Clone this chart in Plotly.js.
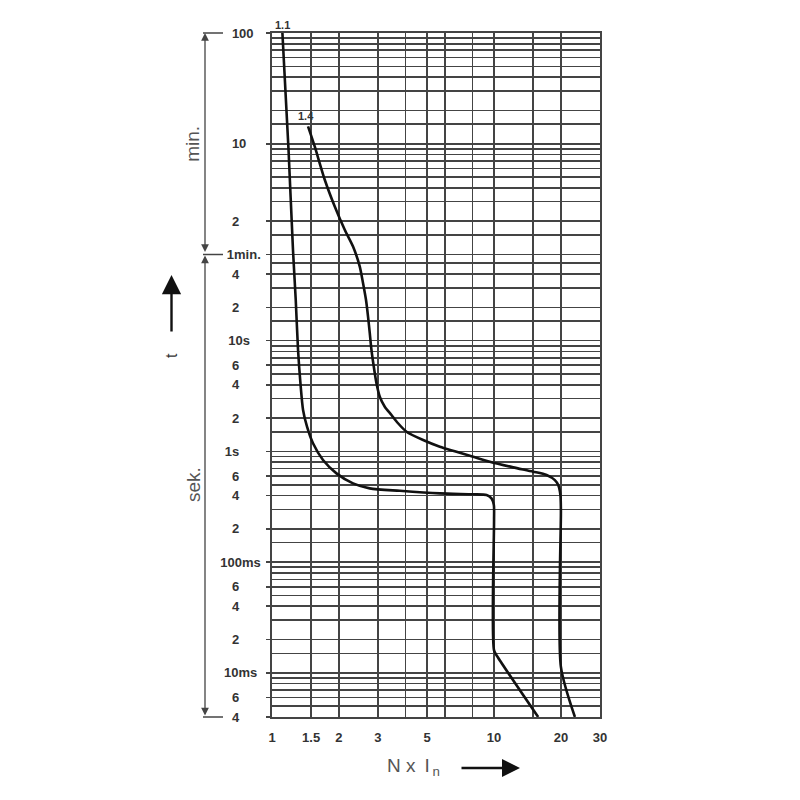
<!DOCTYPE html>
<html>
<head>
<meta charset="utf-8">
<script src="https://cdn.plot.ly/plotly-3.0.1.min.js"></script>
<style>html,body{margin:0;padding:0;background:#fff;}#chart{width:800px;height:800px;}</style>
</head>
<body>
<div id="chart"></div>
<script>
// ---- Data ----
// Curve "1.1": multiple of rated current (N x In) vs tripping time (seconds)
const curve11_N = [1.114, 1.187, 1.243, 1.279, 1.310, 1.343, 1.380, 1.438, 1.530, 1.697, 1.951, 2.317, 2.756, 3.763, 5.70, 8.05, 9.25, 9.74, 9.98, 10, 10, 10.40, 15.80];
const curve11_t = [6000, 530, 66.1, 23.4, 8.24, 4.13, 2.37, 1.672, 1.184, 0.836, 0.634, 0.515, 0.464, 0.441, 0.418, 0.410, 0.404, 0.377, 0.328, 0.240, 0.0160, 0.01386, 0.004];
// Curve "1.4"
const curve14_N = [1.453, 1.557, 1.728, 1.917, 2.126, 2.317, 2.485, 2.571, 2.650, 2.707, 2.756, 2.805, 2.873, 2.954, 3.058, 3.220, 3.452, 3.686, 4.034, 4.792, 5.70, 6.776, 8.05, 9.57, 12.19, 15.01, 17.24, 18.79, 19.45, 19.90, 20, 20, 23.13];
const curve14_t = [860, 567, 284, 162.7, 100.2, 70.8, 46.7, 33.0, 23.4, 16.5, 11.7, 8.24, 5.83, 4.13, 3.12, 2.535, 2.133, 1.806, 1.507, 1.268, 1.103, 0.994, 0.896, 0.807, 0.718, 0.656, 0.612, 0.551, 0.497, 0.404, 0.295, 0.01133, 0.004];
const curveNames = ["1.1", "1.4"];

// X axis ticks
const xTickVals = [1, 1.5, 2, 3, 5, 10, 20, 30];
const xTickText = ["1", "1.5", "2", "3", "5", "10", "20", "30"];
const xGridVals = [4, 6, 8, 15];

// Y axis ticks (seconds)
const yTickVals = [6000, 600, 120, 60, 40, 20, 10, 6, 4, 2, 1, 0.6, 0.4, 0.2, 0.1, 0.06, 0.04, 0.02, 0.01, 0.006, 0.004];
const yTickText = ["100", "10", "2", "1min.", "4", "2", "10s", "6", "4", "2", "1s", "6", "4", "2", "100ms", "6", "4", "2", "10ms", "6", "4"];
const yTickPad  = [2, 4, 6, 0, 6, 6, 3, 6, 6, 6, 6, 6, 6, 6, 0, 6, 6, 6, 1, 6, 6];
const yGridVals = [5400, 4800, 4200, 3600, 3000, 2400, 1800, 1200, 900,
  540, 480, 420, 360, 300, 240, 180, 90,
  50, 30, 15,
  9, 8, 7, 5, 3, 1.5,
  0.9, 0.8, 0.7, 0.5, 0.3, 0.15,
  0.09, 0.08, 0.07, 0.05, 0.03, 0.015,
  0.009, 0.008, 0.007, 0.005];

const xRange = [1, 30];
const yRange = [0.004, 6000];

// ---- Build ----
const NB = "\u00A0";
const yTickLabels = yTickText.map((t, i) => t + NB.repeat(yTickPad[i]));

const gridColor = "#444";
const gridW = 1.6;
const lineStyle = {color: "#111", width: 2.6, shape: "spline", smoothing: 0.7};

const traces = [
  {x: curve11_N, y: curve11_t, mode: "lines", line: lineStyle, name: curveNames[0], hoverinfo: "x+y"},
  {x: curve14_N, y: curve14_t, mode: "lines", line: lineStyle, name: curveNames[1], hoverinfo: "x+y"}
];

const yLo = Math.log10(yRange[0]), yHi = Math.log10(yRange[1]);
function yf(v) { return (Math.log10(v) - yLo) / (yHi - yLo); }
const M = {l: 272, r: 200, t: 33, b: 83};
const plotW = 800 - M.l - M.r, plotH = 800 - M.t - M.b;
function xpx(px) { return (px - M.l) / plotW; }
function ypx(py) { return (M.t + plotH - py) / plotH; }

const FAM = "Liberation Sans, Arial, sans-serif";
const tickFont = {family: FAM, size: 13, color: "#333", weight: "bold"};
const sideFont = {family: FAM, size: 19, color: "#555"};
const decoColor = "#444";

const annotations = [
  // curve labels
  {xref: "x", yref: "y", x: Math.log10(curve11_N[0]), y: Math.log10(curve11_t[0]), text: curveNames[0], showarrow: false,
   yanchor: "bottom", xanchor: "center", yshift: 0, font: {family: FAM, size: 11, color: "#333", weight: "bold"}},
  {xref: "x", yref: "y", x: Math.log10(curve14_N[0]), y: Math.log10(curve14_t[0]), text: curveNames[1], showarrow: false,
   yanchor: "bottom", xanchor: "center", xshift: -2, yshift: 2, font: {family: FAM, size: 11, color: "#333", weight: "bold"}},
  // min. / sek. labels
  {xref: "paper", yref: "paper", x: xpx(193), y: (yf(6000) + yf(60)) / 2, xanchor: "center", yanchor: "middle",
   text: "min.", textangle: -90, showarrow: false, font: sideFont},
  {xref: "paper", yref: "paper", x: xpx(193), y: ypx(485), xanchor: "center", yanchor: "middle",
   text: "sek.", textangle: -90, showarrow: false, font: sideFont},
  // t with arrow
  {xref: "paper", yref: "paper", x: xpx(171), y: ypx(356), xanchor: "center", yanchor: "middle",
   text: "t", textangle: -90, showarrow: false, font: {family: FAM, size: 16, color: "#333"}},
  {xref: "paper", yref: "paper", x: xpx(171.5), y: ypx(275), ax: 0, ay: 58, axref: "pixel", ayref: "pixel", text: "", showarrow: true,
   arrowhead: 2, arrowsize: 1.6, arrowwidth: 2.4, arrowcolor: "#111", standoff: 0},
  // bracket arrows
  {xref: "paper", yref: "paper", x: xpx(205), y: yf(6000), ax: 0, ay: (yf(6000) - yf(60)) * plotH, text: "", showarrow: true,
   arrowside: "end+start", arrowhead: 2, startarrowhead: 2, arrowsize: 1.2, startarrowsize: 1.2, arrowwidth: 1.3, arrowcolor: decoColor, standoff: 0, startstandoff: 1},
  {xref: "paper", yref: "paper", x: xpx(205), y: yf(60), ax: 0, ay: (yf(60) - yf(0.004)) * plotH, text: "", showarrow: true,
   arrowside: "end+start", arrowhead: 2, startarrowhead: 2, arrowsize: 1.2, startarrowsize: 1.2, arrowwidth: 1.3, arrowcolor: decoColor, standoff: 1, startstandoff: 0},
  // x axis title
  {xref: "paper", yref: "paper", x: xpx(385), y: ypx(767), xanchor: "left", yanchor: "middle", showarrow: false,
   text: "N" + NB + "x" + NB + "\u2009I<sub>" + "\u2009n</sub>", font: {family: FAM, size: 19, color: "#555"}},
  {xref: "paper", yref: "paper", x: xpx(520), y: ypx(768), ax: -60, ay: 0, axref: "pixel", ayref: "pixel", text: "", showarrow: true,
   arrowhead: 2, arrowsize: 1.5, arrowwidth: 2.4, arrowcolor: "#111", standoff: 0}
];

const shapes = [6000, 60, 0.004].map(v => ({
  type: "line", xref: "paper", yref: "paper", x0: xpx(203), x1: xpx(223), y0: yf(v), y1: yf(v),
  line: {color: decoColor, width: 1.5}
}));

const layout = {
  width: 800, height: 800,
  margin: M,
  paper_bgcolor: "#fff", plot_bgcolor: "#fff",
  showlegend: false,
  xaxis: {
    type: "log", range: [Math.log10(xRange[0]), Math.log10(xRange[1])],
    tickmode: "array", tickvals: xTickVals, ticktext: xTickText,
    ticks: "", showgrid: true, gridcolor: gridColor, gridwidth: gridW,
    minor: {tickmode: "array", tickvals: xGridVals, showgrid: true, gridcolor: gridColor, gridwidth: gridW, ticks: ""},
    showline: true, linecolor: gridColor, linewidth: gridW, mirror: true,
    zeroline: false, tickfont: tickFont, ticklabelstandoff: 8, fixedrange: true
  },
  yaxis: {
    type: "log", range: [yLo, yHi],
    tickmode: "array", tickvals: yTickVals, ticktext: yTickLabels,
    ticks: "outside", ticklen: 4, tickwidth: gridW, tickcolor: gridColor,
    showgrid: true, gridcolor: gridColor, gridwidth: gridW,
    minor: {tickmode: "array", tickvals: yGridVals, showgrid: true, gridcolor: gridColor, gridwidth: gridW, ticks: ""},
    showline: true, linecolor: gridColor, linewidth: gridW, mirror: true,
    zeroline: false, tickfont: tickFont, ticklabelstandoff: 3, fixedrange: true
  },
  annotations: annotations,
  shapes: shapes
};

Plotly.newPlot("chart", traces, layout, {displayModeBar: false, staticPlot: true});
</script>
</body>
</html>
